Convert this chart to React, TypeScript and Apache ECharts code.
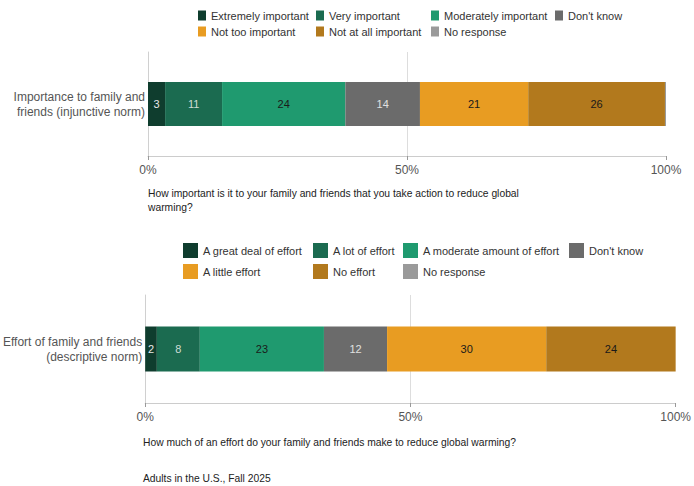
import React, { useEffect, useRef } from "react";
import * as echarts from "echarts";

const topCategories = ["Importance to family and\nfriends (injunctive norm)"];
const topNames = [
  "Extremely important",
  "Very important",
  "Moderately important",
  "Don't know",
  "Not too important",
  "Not at all important",
  "No response",
];
const topValues = [3.3, 11.0, 23.8, 14.4, 20.9, 26.4, 0.2];

const bottomCategories = ["Effort of family and friends\n(descriptive norm)"];
const bottomNames = [
  "A great deal of effort",
  "A lot of effort",
  "A moderate amount of effort",
  "Don't know ",
  "A little effort",
  "No effort",
  "No response ",
];
const bottomValues = [2.2, 8.1, 23.4, 11.9, 30.0, 24.4, 0];

const tickLabels = ["0%", "50%", "100%"];

const colors = ["#0f3d2e", "#1b6b50", "#1f9a6f", "#6b6b6b", "#e89c22", "#b2791d", "#9a9a9a"];
const labelColors = ["#e8e8e8", "#cfdcd5", "#1a1a1a", "#e0e0e0", "#1a1a1a", "#1a1a1a", "#1a1a1a"];

const FONT = "Liberation Sans, Arial, sans-serif";

export default function App() {
  const ref = useRef<HTMLDivElement>(null);
  useEffect(() => {
    if (!ref.current) return;
    const chart = echarts.init(ref.current, null, { renderer: "svg" });

    const topLegendPos = [
      [198, 10], [316, 10], [431, 10], [555, 10],
      [198, 26], [316, 26], [431, 26],
    ];
    const bottomLegendPos = [
      [183, 243], [313, 243], [403, 243], [569, 243],
      [183, 264], [313, 264], [403, 264],
    ];

    const legends: any[] = [];
    topNames.forEach((n, i) => {
      legends.push({
        left: topLegendPos[i][0],
        top: topLegendPos[i][1],
        padding: 0,
        data: [n],
        icon: "rect",
        itemWidth: 8,
        itemHeight: 10,
        itemGap: 0,
        selectedMode: false,
        textStyle: { fontSize: 11, color: "#333", fontFamily: FONT },
      });
    });
    bottomNames.forEach((n, i) => {
      legends.push({
        left: bottomLegendPos[i][0],
        top: bottomLegendPos[i][1],
        padding: 0,
        data: [n],
        icon: "rect",
        itemWidth: 15,
        itemHeight: 15,
        itemGap: 0,
        selectedMode: false,
        formatter: (s: string) => s.trim(),
        textStyle: { fontSize: 11, color: "#333", fontFamily: FONT },
      });
    });

    const makeX = (gridIndex: number) => ({
      type: "value",
      gridIndex,
      min: 0,
      max: 100,
      interval: 50,
      axisLine: { show: true, lineStyle: { color: "#cccccc", width: 1 } },
      axisTick: { show: true, length: 4, lineStyle: { color: "#999" } },
      axisLabel: {
        margin: 8,
        fontSize: 12,
        color: "#555",
        fontFamily: FONT,
        formatter: (v: number) => tickLabels[Math.round(v / 50)],
      },
      splitLine: {
        show: true,
        lineStyle: { color: ["transparent", "#dddddd", "transparent"], width: 1 },
      },
    });
    const makeY = (gridIndex: number, cats: string[]) => ({
      type: "category",
      gridIndex,
      data: cats,
      axisLine: { show: true, lineStyle: { color: "#d0d0d0", width: 1 } },
      axisTick: { show: false },
      axisLabel: {
        margin: 3,
        fontSize: 12,
        lineHeight: 15,
        color: "#555",
        fontFamily: FONT,
        align: "right",
      },
    });

    const series: any[] = [];
    topNames.forEach((n, i) => {
      series.push({
        name: n,
        type: "bar",
        stack: "top",
        xAxisIndex: 0,
        yAxisIndex: 0,
        barWidth: 44,
        data: [topValues[i]],
        itemStyle: { color: colors[i] },
        label: {
          show: i < 6,
          position: "inside",
          fontSize: 11,
          fontFamily: FONT,
          color: labelColors[i],
          formatter: (p: any) => String(Math.round(p.value)),
        },
      });
    });
    bottomNames.forEach((n, i) => {
      series.push({
        name: n,
        type: "bar",
        stack: "bottom",
        xAxisIndex: 1,
        yAxisIndex: 1,
        barWidth: 45,
        data: [bottomValues[i]],
        itemStyle: { color: colors[i] },
        label: {
          show: i < 6,
          position: "inside",
          fontSize: 11,
          fontFamily: FONT,
          color: labelColors[i],
          formatter: (p: any) => String(Math.round(p.value)),
        },
      });
    });

    chart.setOption({
      animation: false,
      textStyle: { fontFamily: FONT },
      color: colors,
      legend: legends,
      grid: [
        { left: 148, width: 518, top: 52, height: 104 },
        { left: 142.7, width: 536.3, top: 295, height: 108 },
      ],
      xAxis: [makeX(0), makeX(1)],
      yAxis: [makeY(0, topCategories), makeY(1, bottomCategories)],
      series,
      graphic: [
        {
          type: "text",
          left: 148,
          top: 186,
          style: {
            text: "How important is it to your family and friends that you take action to reduce global\nwarming?",
            fontSize: 10.3,
            lineHeight: 14,
            fill: "#222",
            fontFamily: FONT,
          },
        },
        {
          type: "text",
          left: 143,
          top: 437,
          style: {
            text: "How much of an effort do your family and friends make to reduce global warming?",
            fontSize: 10.3,
            fill: "#222",
            fontFamily: FONT,
          },
        },
        {
          type: "text",
          left: 143,
          top: 473,
          style: {
            text: "Adults in the U.S., Fall 2025",
            fontSize: 10.3,
            fill: "#222",
            fontFamily: FONT,
          },
        },
      ],
    });
    return () => chart.dispose();
  }, []);
  return (
    <div
      ref={ref}
      style={{ position: "absolute", left: 0, top: 0, width: 694, height: 486 }}
    />
  );
}
